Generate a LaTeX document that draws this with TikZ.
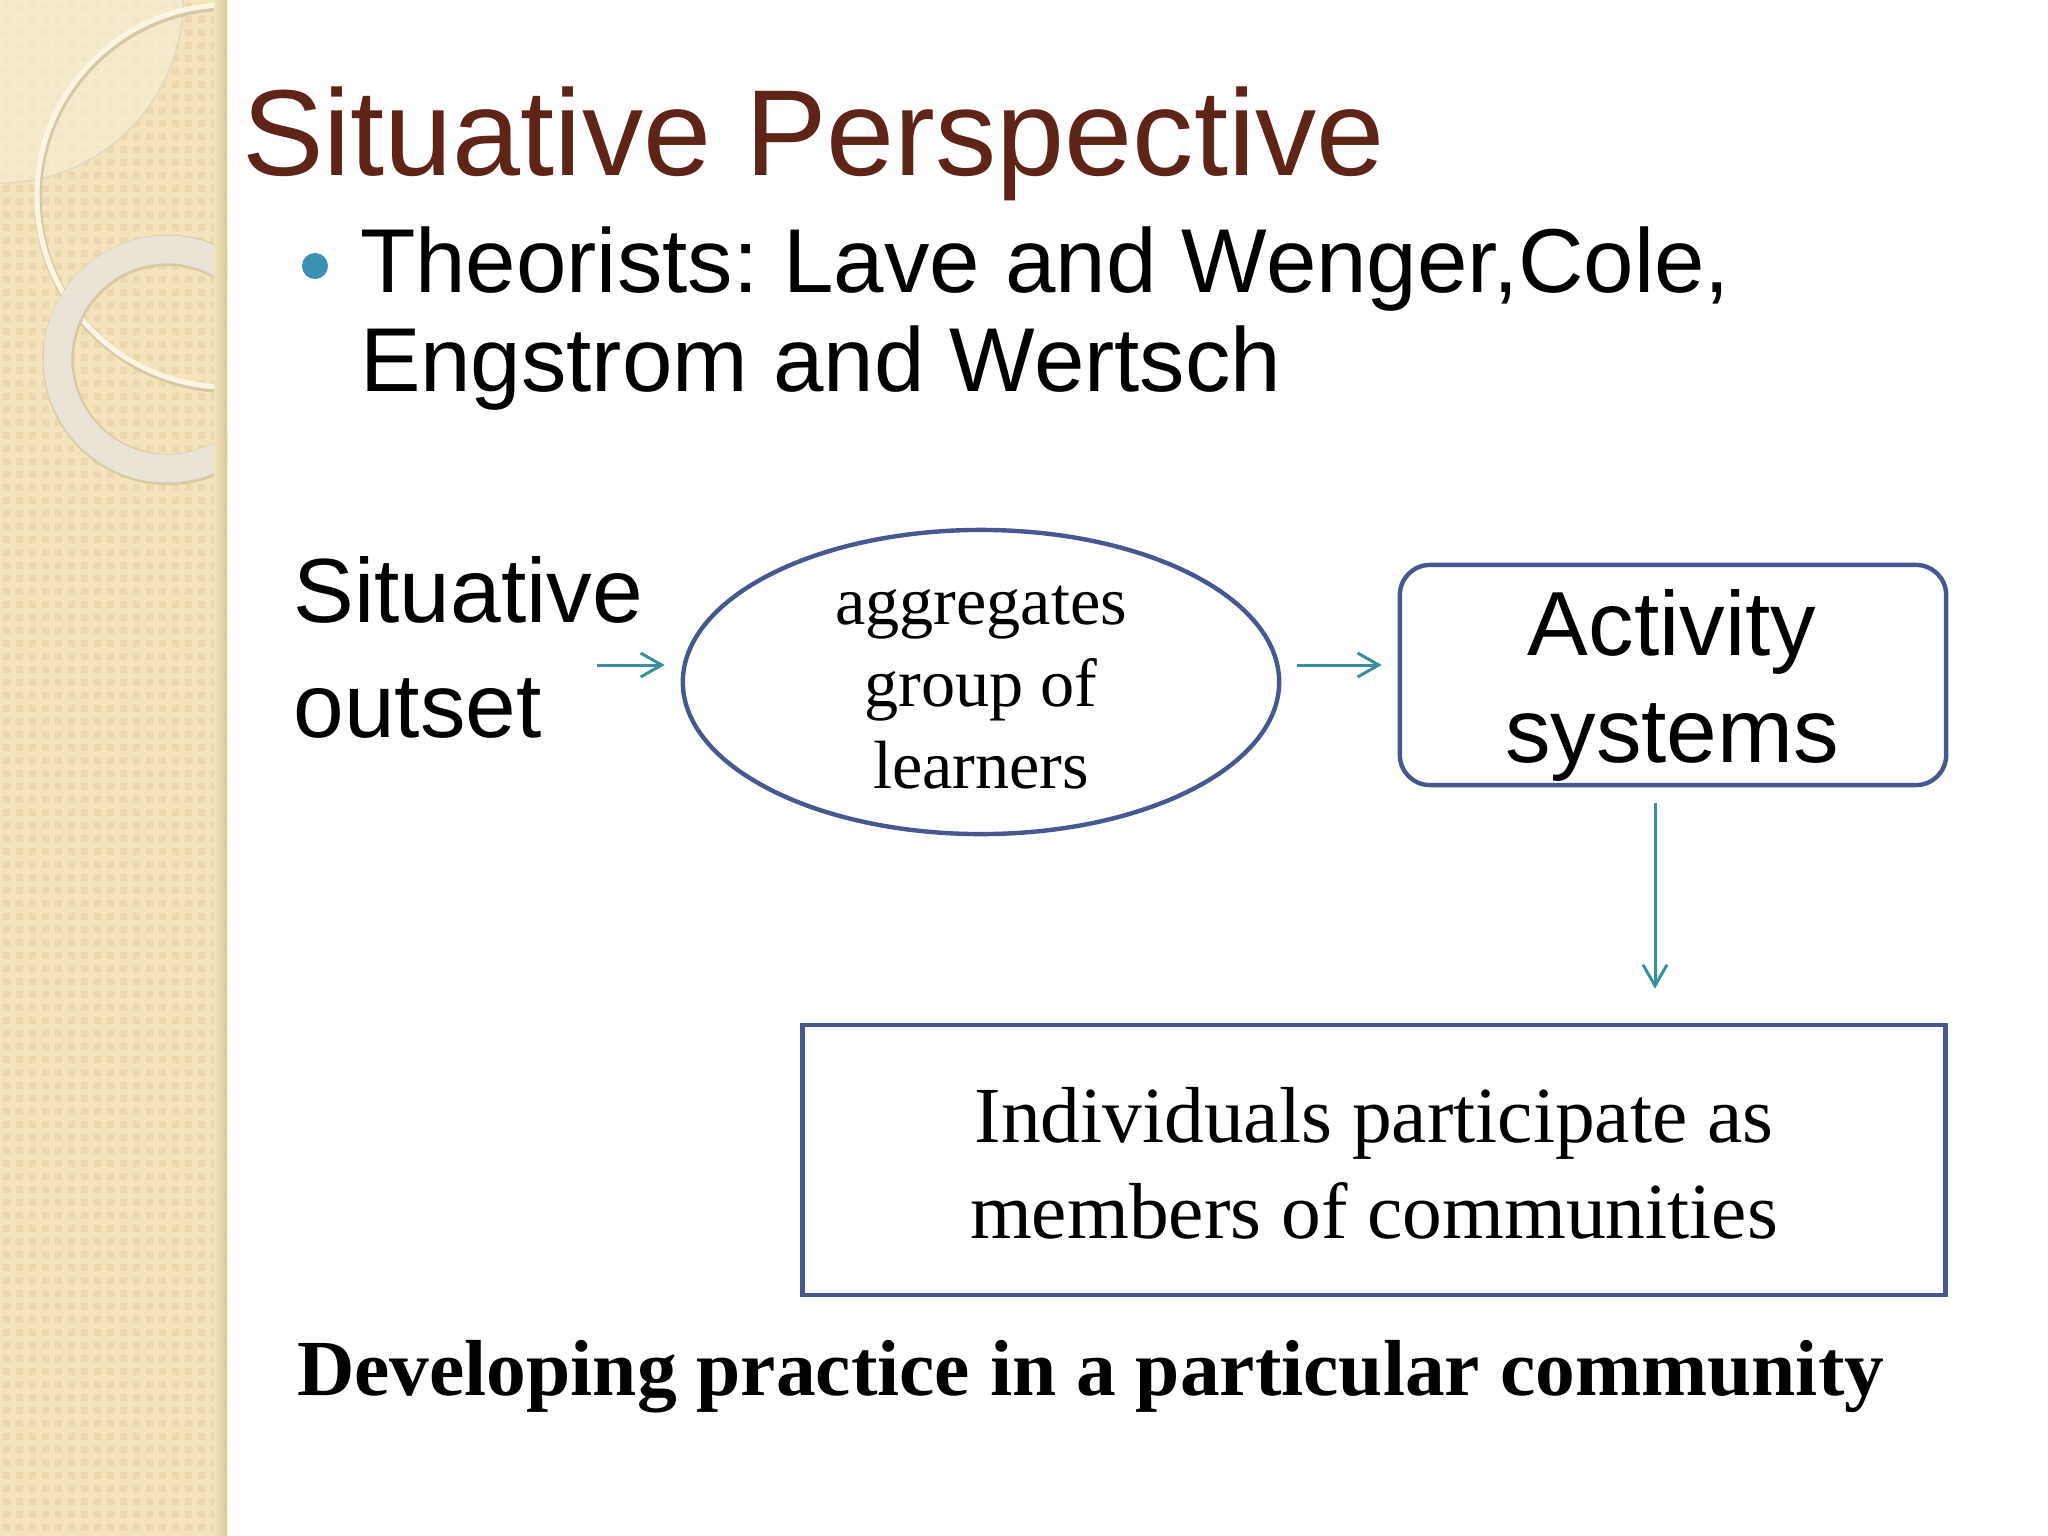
\documentclass[tikz,border=0pt]{standalone}
\usepackage{fontspec}
\setmainfont{Liberation Serif}
\setsansfont{Liberation Sans}
\usetikzlibrary{shapes.geometric,arrows.meta,calc}
\definecolor{stripc}{HTML}{F4E3BC}
\definecolor{patc}{HTML}{ECD8AC}
\definecolor{stripedge}{HTML}{D8C89E}
\definecolor{titlec}{HTML}{5E2417}
\definecolor{bulletc}{HTML}{3B8FB0}
\definecolor{arrowc}{HTML}{3A8F9F}
\definecolor{framec}{HTML}{46588E}
\definecolor{ringc}{HTML}{ECE7DC}
\definecolor{ringedge}{HTML}{D6C8A6}
\definecolor{thinc}{HTML}{FBF5E2}
\definecolor{lensc}{HTML}{F7EDD3}
\newcommand\myfs[2]{\fontsize{#1}{#2}\selectfont}
\frenchspacing
\tikzset{
  plain/.style={inner sep=0, outer sep=0},
  seriflbl/.style={plain, text=black, align=center},
  frameline/.style={draw=framec, line width=1.25pt},
  arr/.style={draw=arrowc, line width=0.85pt, -{Straight Barb[length=0.21cm,width=0.24cm]}}
}
\begin{document}
\begin{tikzpicture}[x=0.01cm,y=-0.01cm]
\useasboundingbox (0,0) rectangle (2048,1536);
\fill[white] (0,0) rectangle (2048,1536);
% decorative strip
\begin{scope}
  \clip (0,0) rectangle (227,1536);
  \fill[stripc] (0,0) rectangle (227,1536);
  \foreach \i in {0,...,17}{\foreach \j in {0,...,118}{\fill[patc] (\i*13+3,\j*13+3) rectangle ++(7,7);}}
  \fill[lensc, opacity=0.75] (0,0) -- (1.83cm,0) arc[start angle=0, end angle=-90, radius=1.83cm] -- cycle;
  \draw[ringedge!70, line width=0.4pt] (1.83cm,0) arc[start angle=0, end angle=-90, radius=1.83cm];
  \draw[ringedge, line width=2.2pt] (229,198) circle (1.91cm);
  \draw[thinc, line width=1.5pt] (228,196) circle (1.91cm);
  \draw[ringedge, line width=8.9pt, opacity=0.9] (168,360) circle (1.095cm);
  \draw[ringc, line width=7.9pt, opacity=0.92] (167,359) circle (1.095cm);
  \shade[left color=stripc, right color=stripedge] (214,0) rectangle (227,1536);
\end{scope}
% title and bullet
\node[plain, font=\sffamily\myfs{34.8}{40}, text=titlec, anchor=base west] (title) at (242,175) {Situative Perspective};
\node[circle, fill=bulletc, minimum size=0.26cm, inner sep=0] (bul) at (315,266) {};
\node[plain, font=\sffamily\myfs{25.8}{27.9}, align=left, anchor=west] (theor) at (360,318.5)
  {Theorists: Lave and Wenger,Cole,\\Engstrom and Wertsch};
% left label
\node[plain, font=\sffamily\myfs{25.9}{32.7}, align=left, anchor=west] (sit) at (293.5,647.5) {Situative\\outset};
% ellipse
\node[ellipse, frameline, minimum width=5.96cm, minimum height=3.04cm, inner sep=0] (ell) at (981,682) {};
\node[seriflbl, font=\myfs{19.4}{23.3}] (elltxt) at (981,688) {aggregates\\group of\\learners};
% activity box
\node[rectangle, rounded corners=0.3cm, frameline, minimum width=5.46cm, minimum height=2.2cm, inner sep=0] (act) at (1673,675) {};
\node[plain, font=\sffamily\myfs{25.9}{30.4}, align=center] (acttxt) at (1672,685.5) {Activity\\systems};
% individuals box
\node[rectangle, frameline, minimum width=11.42cm, minimum height=2.7cm, inner sep=0] (ind) at (1374,1160) {};
\node[seriflbl, font=\myfs{22.6}{27.3}] (indtxt) at (1374,1163) {Individuals participate as\\members of communities};
% bottom line
\node[plain, font=\bfseries\myfs{22.6}{27}, anchor=base west] (dev) at (297,1395) {Developing practice in a particular community};
% arrows
\draw[arr] ($(ell.west)+(-84,-17)$) -- ($(ell.west)+(-16,-17)$);
\draw[arr] ($(ell.east)+(16,-17)$) -- ($(act.west)+(-16,-10)$);
\draw[arr] ($(act.south)+(-18,16)$) -- ($(act.south|-ind.north)+(-18,-34)$);
\end{tikzpicture}
\end{document}
